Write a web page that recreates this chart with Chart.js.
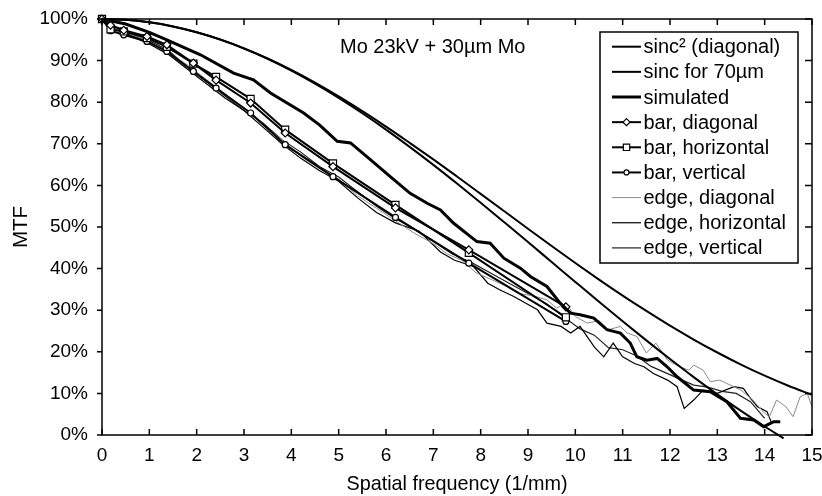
<!DOCTYPE html>
<html>
<head>
<meta charset="utf-8">
<title>MTF - Mo 23kV + 30µm Mo</title>
<script src="https://cdn.jsdelivr.net/npm/chart.js@4.4.1/dist/chart.umd.min.js"></script>
<style>
  html, body { margin: 0; padding: 0; background: #fff; }
</style>
</head>
<body>
<canvas id="mtfChart" width="822" height="496"></canvas>
<script>
//---------------------------------------------------------
// Data (MTF in %, spatial frequency in 1/mm)
const plotTitle = "Mo 23kV + 30µm Mo";
const xTicks = [0, 1, 2, 3, 4, 5, 6, 7, 8, 9, 10, 11, 12, 13, 14, 15];
const yTicks = [0, 10, 20, 30, 40, 50, 60, 70, 80, 90, 100];

// smooth curves, sampled every 0.5 1/mm
const sincX = [0, 0.5, 1, 1.5, 2, 2.5, 3, 3.5, 4, 4.5, 5, 5.5, 6, 6.5, 7, 7.5, 8, 8.5, 9, 9.5, 10, 10.5, 11, 11.5, 12, 12.5, 13, 13.5, 14, 14.5, 15];
const sinc2Diag = [100, 99.80, 99.20, 98.20, 96.82, 95.06, 92.95, 90.51, 87.75, 84.71, 81.40, 77.85, 74.13, 70.23, 66.25, 62.14, 57.97, 53.78, 49.58, 45.42, 41.34, 37.36, 33.51, 29.82, 26.28, 22.95, 19.83, 16.93, 14.26, 11.84, 9.65];
const sinc70X = [0, 0.5, 1, 1.5, 2, 2.5, 3, 3.5, 4, 4.5, 5, 5.5, 6, 6.5, 7, 7.5, 8, 8.5, 9, 9.5, 10, 10.5, 11, 11.5, 12, 12.5, 13, 13.5, 14, 14.4];
const sinc70 = [100, 99.80, 99.20, 98.20, 96.81, 95.04, 92.90, 90.42, 87.59, 84.46, 81.03, 77.34, 73.41, 69.26, 64.93, 60.44, 55.84, 51.13, 46.37, 41.58, 36.79, 32.03, 27.34, 22.74, 18.26, 13.92, 9.76, 5.79, 2.04, -0.8];

// simulated
const simX = [0, 0.5, 1, 1.37, 2.08, 2.78, 3.2, 3.56, 4.26, 4.6, 4.97, 5.25, 5.67, 6.09, 6.51, 6.87, 7.15, 7.43, 7.92, 8.2, 8.49, 8.84, 9.05, 9.4, 9.68, 9.9, 10.1, 10.39, 10.67, 10.95, 11.16, 11.3, 11.51, 11.73, 11.94, 12.15, 12.5, 12.85, 13.2, 13.49, 13.77, 13.98, 14.19, 14.33];
const simulated = [100, 98.8, 96.8, 95, 91.4, 87, 85.4, 82.2, 77.4, 74.5, 70.6, 70.2, 66.2, 62.1, 58.1, 55.7, 54.1, 50.9, 46.5, 46.1, 42.5, 40.1, 38.1, 35.7, 31.7, 29.3, 28.9, 28.1, 25.3, 24.5, 22.1, 18.8, 18, 18.4, 16.4, 14, 10.8, 10.4, 8, 4, 3.6, 2, 3.2, 3.2];

// bar pattern measurements
const barX = [0, 0.18, 0.46, 0.95, 1.37, 1.93, 2.41, 3.14, 3.87, 4.88, 6.2, 7.75, 9.8];
const barDiag = [100, 98.5, 97.3, 95.8, 93.8, 89.4, 85.3, 79.8, 72.6, 64.5, 54.6, 44.5, 30.8];
const barHoriz = [100, 97.5, 97, 95.4, 93.3, 89.3, 86.1, 80.8, 73.4, 65.3, 55.3, 43.8, 28.3];
const barVert = [100, 97.2, 96.2, 94.6, 92.2, 87.4, 83.4, 77.4, 69.8, 62.1, 52.3, 41.3, 27.3];

// edge measurements (noisy)
const edgeDiagX = [0, 0.3, 0.6, 1, 1.4, 1.8, 2.2, 2.6, 3, 3.4, 3.8, 4.2, 4.6, 5, 5.4, 5.8, 6.2, 6.6, 7, 7.3, 7.6, 7.9, 8.2, 8.5, 8.8, 9.1, 9.4, 9.6, 9.8, 10, 10.25, 10.5, 10.7, 10.95, 11.1, 11.3, 11.5, 11.7, 11.95, 12.2, 12.4, 12.5, 12.7, 12.85, 13.05, 13.2, 13.5, 13.75, 14, 14.1, 14.25, 14.45, 14.6, 14.75, 14.9, 15];
const edgeDiag = [100, 97.5, 96.5, 94.5, 92, 89, 85.5, 82, 78.5, 74.5, 71, 67, 64, 61.5, 57.5, 54.5, 51.5, 48.5, 46, 43.5, 42, 39, 37.5, 36, 34, 33.5, 32.5, 30.5, 31.7, 28.5, 26.9, 27.5, 25.3, 26.1, 24.5, 23.7, 19.7, 22.1, 18, 16.4, 15.6, 16.8, 15.6, 12.8, 13.2, 12.4, 10.8, 8.4, 5.2, 4.4, 8.4, 6.8, 4.4, 9.2, 10, 6.8];
const edgeHorizX = [0, 0.3, 0.6, 1, 1.4, 1.8, 2.2, 2.6, 3, 3.4, 3.8, 4.2, 4.6, 5, 5.4, 5.8, 6.2, 6.7, 7.15, 7.45, 7.85, 8.15, 8.4, 8.7, 9.2, 9.4, 9.7, 9.9, 10.1, 10.4, 10.6, 10.8, 11, 11.25, 11.45, 11.65, 11.95, 12.15, 12.3, 12.5, 12.7, 13, 13.35, 13.55, 13.7, 13.85, 14.05, 14.15];
const edgeHoriz = [100, 98, 96, 94, 91.5, 88, 84.5, 81, 78, 74, 70, 66.5, 63.5, 61, 57, 53.5, 51, 49, 44, 42, 40.5, 36.5, 34.9, 33.3, 30.1, 26.9, 26.1, 24.5, 26.1, 21.2, 18.8, 22.1, 18.8, 17.2, 16.4, 14.8, 13.2, 11.6, 6.4, 8.4, 10.8, 10, 11.6, 11.2, 8.8, 6.8, 5.6, 2.8];
const edgeVertX = [0, 0.3, 0.6, 1, 1.4, 1.8, 2.2, 2.6, 3, 3.4, 3.8, 4.2, 4.6, 5, 5.4, 5.8, 6.2, 6.6, 7, 7.4, 7.8, 8.2, 8.6, 9, 9.4, 9.8, 10.1, 10.4, 10.7, 11, 11.3, 11.6, 11.9, 12.2, 12.5, 12.8, 13.1, 13.4, 13.7, 14];
const edgeVert = [100, 97.5, 96, 94.8, 92.5, 88.5, 85, 81.5, 78, 75, 71, 68, 64.5, 62, 58.5, 55, 52, 49.5, 46.5, 43.5, 41.5, 39, 36.5, 34, 31.5, 28, 25.5, 24, 21, 20.5, 19, 16.5, 15, 13.5, 12, 11.5, 10.5, 10, 8, 4];

//---------------------------------------------------------
// Helpers
const FONT = '"Liberation Sans", Arial, Helvetica, sans-serif';
const pts = (xs, ys) => xs.map((x, i) => ({ x: x, y: ys[i] })); // pair up x and y arrays

function lineSet(label, xs, ys, width, color, extra) {
  return Object.assign({
    label: label,
    data: pts(xs, ys),
    borderColor: color,
    backgroundColor: "#fff",
    borderWidth: width,
    pointRadius: 0,
    pointHoverRadius: 0,
    tension: 0,
    clip: 5,
  }, extra || {});
}

function barSet(label, ys, style, radius) {
  return lineSet(label, barX, ys, 2, "#000", {
    pointStyle: style,
    pointRadius: radius,
    pointBorderWidth: 1.2,
    pointBorderColor: "#000",
    pointBackgroundColor: "#fff",
  });
}

// drop the tick-label overhang so the layout padding alone places the plot
function noOverhang(scale) {
  scale.paddingLeft = 0;
  scale.paddingRight = 0;
  scale.paddingTop = 0;
  scale.paddingBottom = 0;
}

//---------------------------------------------------------
// Frame, inside ticks, title and boxed legend (drawn by hand)
const frameAndLegend = {
  id: "frameAndLegend",
  afterDraw(chart) {
    const { ctx, chartArea: a, scales } = chart;
    const sx = scales.x, sy = scales.y;
    ctx.save();
    ctx.strokeStyle = "#000";
    ctx.lineWidth = 1.5;
    ctx.strokeRect(a.left, a.top, a.right - a.left, a.bottom - a.top);

    ctx.beginPath();
    xTicks.forEach(v => {
      const px = sx.getPixelForValue(v);
      ctx.moveTo(px, a.bottom); ctx.lineTo(px, a.bottom - 6); // bottom, inside
      ctx.moveTo(px, a.top); ctx.lineTo(px, a.top + 6); // top, inside
    });
    yTicks.forEach(v => {
      const py = sy.getPixelForValue(v);
      ctx.moveTo(a.left - 5, py); ctx.lineTo(a.left, py); // left, outside
      ctx.moveTo(a.right, py); ctx.lineTo(a.right - 7, py); // right, inside
    });
    ctx.stroke();

    // title inside the plot
    ctx.fillStyle = "#000";
    ctx.font = "20px " + FONT;
    ctx.textAlign = "left";
    ctx.textBaseline = "middle";
    ctx.fillText(plotTitle, 340, 47);

    // legend box
    const box = { left: 600, top: 32, right: 798, bottom: 263 };
    ctx.fillStyle = "#fff";
    ctx.fillRect(box.left, box.top, box.right - box.left, box.bottom - box.top);
    ctx.lineWidth = 1.5;
    ctx.strokeStyle = "#000";
    ctx.strokeRect(box.left, box.top, box.right - box.left, box.bottom - box.top);

    chart.data.datasets.forEach((ds, i) => {
      const yRow = 46.7 + i * 25.15;
      ctx.beginPath();
      ctx.strokeStyle = ds.borderColor;
      ctx.lineWidth = ds.borderWidth;
      ctx.moveTo(612, yRow);
      ctx.lineTo(641, yRow);
      ctx.stroke();
      if (ds.pointRadius > 0) {
        ctx.fillStyle = "#fff";
        ctx.strokeStyle = "#000";
        ctx.lineWidth = 1.2;
        Chart.helpers.drawPoint(ctx, { pointStyle: ds.pointStyle, radius: ds.pointRadius - 0.5, rotation: 0, borderWidth: 1.2 }, 626.5, yRow);
      }
      ctx.fillStyle = "#000";
      ctx.font = "20px " + FONT;
      ctx.fillText(ds.label, 643.5, yRow + 1);
    });
    ctx.restore();
  },
};

//---------------------------------------------------------
// Chart
Chart.defaults.font.family = FONT;
Chart.defaults.font.size = 19;
Chart.defaults.color = "#000";

new Chart(document.getElementById("mtfChart").getContext("2d"), {
  type: "line",
  data: {
    datasets: [
      lineSet("sinc² (diagonal)", sincX, sinc2Diag, 2, "#000", { cubicInterpolationMode: "monotone" }),
      lineSet("sinc for 70µm", sinc70X, sinc70, 2, "#000", { cubicInterpolationMode: "monotone" }),
      lineSet("simulated", simX, simulated, 3, "#000"),
      barSet("bar, diagonal", barDiag, "rectRot", 4),
      barSet("bar, horizontal", barHoriz, "rect", 5),
      barSet("bar, vertical", barVert, "circle", 3),
      lineSet("edge, diagonal", edgeDiagX, edgeDiag, 1, "#8a8a8a"),
      lineSet("edge, horizontal", edgeHorizX, edgeHoriz, 1.2, "#000"),
      lineSet("edge, vertical", edgeVertX, edgeVert, 1.2, "#222"),
    ],
  },
  options: {
    responsive: false,
    animation: false,
    layout: { padding: { left: 0, top: 19, right: 10, bottom: 0 } },
    scales: {
      x: {
        type: "linear",
        min: 0,
        max: 15,
        afterFit: (scale) => { scale.height = 61; noOverhang(scale); }, // fixed room under the plot
        afterBuildTicks: (scale) => { scale.ticks = xTicks.map(v => ({ value: v })); },
        ticks: { padding: 9, maxRotation: 0, autoSkip: false },
        grid: { display: false, drawTicks: false },
        border: { display: false },
        title: { display: true, text: "Spatial frequency (1/mm)", font: { size: 19.8 }, padding: { top: 0, bottom: 0 } },
      },
      y: {
        min: 0,
        max: 100,
        afterFit: (scale) => { scale.width = 102; noOverhang(scale); },
        afterBuildTicks: (scale) => { scale.ticks = yTicks.map(v => ({ value: v })); },
        ticks: { padding: 14, callback: (v) => v + "%" },
        grid: { display: false, drawTicks: false },
        border: { display: false },
        title: { display: true, text: "MTF", font: { size: 20.5 }, padding: { top: 9, bottom: 0 } },
      },
    },
    plugins: {
      legend: { display: false }, // drawn by frameAndLegend
      tooltip: { enabled: false },
    },
  },
  plugins: [frameAndLegend],
});
</script>
</body>
</html>
